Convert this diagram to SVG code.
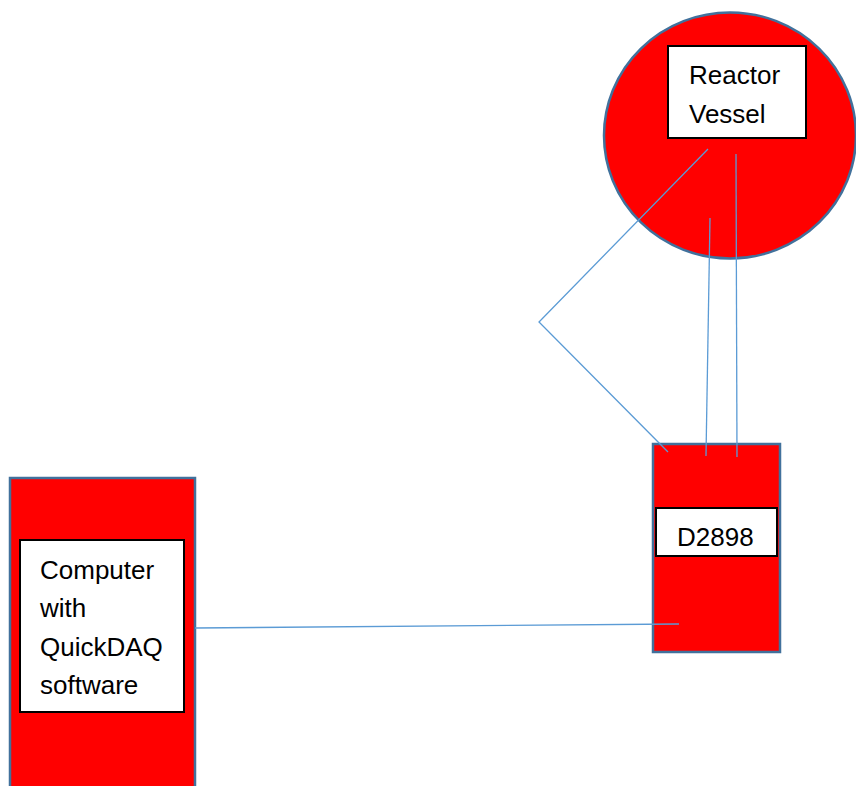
<svg xmlns="http://www.w3.org/2000/svg" width="856" height="786" viewBox="0 0 856 786">
<style>
.shape{fill:#ff0000;stroke:#41719c;stroke-width:2.5}
.label{fill:#ffffff;stroke:#000000;stroke-width:2}
.txt{font-family:"Liberation Sans",Arial,sans-serif;font-size:26px;fill:#000000}
.conn{fill:none;stroke:#5b9bd5;stroke-width:1.3}
</style>
<rect width="856" height="786" fill="#ffffff"/>
<g id="reactor">
<ellipse class="shape" cx="730" cy="135.5" rx="126" ry="123"/>
<rect class="label" x="668" y="46" width="138" height="92"/>
<text class="txt" x="689" y="84">Reactor</text>
<text class="txt" x="689" y="123">Vessel</text>
</g>
<g id="d2898">
<rect class="shape" x="653" y="444" width="127" height="208"/>
<rect class="label" x="656" y="508" width="121" height="48"/>
<text class="txt" x="677" y="546">D2898</text>
</g>
<g id="computer">
<rect class="shape" x="10" y="478" width="185" height="320"/>
<rect class="label" x="20" y="540" width="164" height="172"/>
<text class="txt" x="40" y="579">Computer</text>
<text class="txt" x="40" y="617">with</text>
<text class="txt" x="40" y="656">QuickDAQ</text>
<text class="txt" x="40" y="694">software</text>
</g>
<g id="connectors">
<polyline class="conn" points="708,149 539,322 668,452"/>
<line class="conn" x1="710" y1="218" x2="706" y2="456"/>
<line class="conn" x1="736" y1="154" x2="737" y2="457"/>
<line class="conn" x1="195" y1="628" x2="679" y2="624"/>
</g>
</svg>
